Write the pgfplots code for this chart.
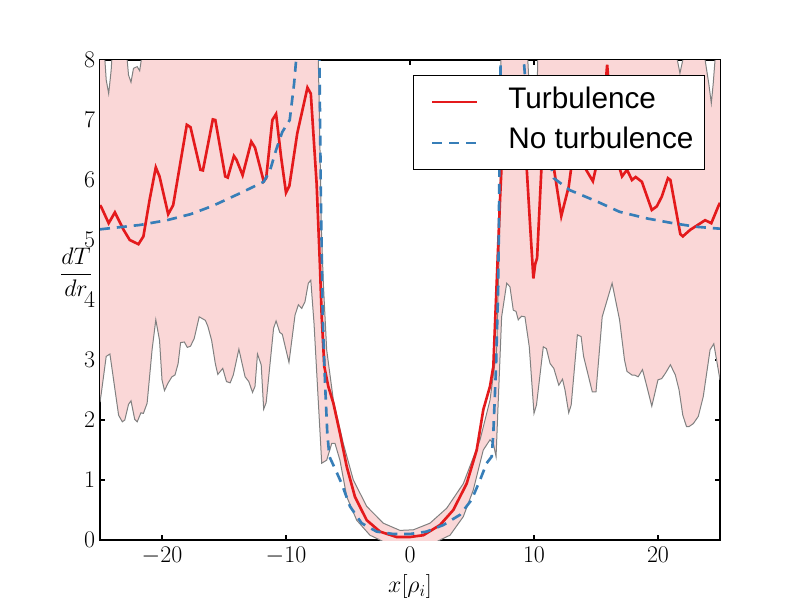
\documentclass[border=0pt]{standalone}
\usepackage{fontspec}
\usepackage{pgfplots}
\pgfplotsset{compat=1.18}
\newfontfamily\legendfont{Liberation Sans}
\definecolor{tred}{RGB}{228,26,28}
\definecolor{tblue}{RGB}{55,126,184}
\definecolor{band}{RGB}{250,215,215}
\definecolor{bandline}{RGB}{128,128,128}

\pgfplotstableread{
x y
-25 8.6
-24.7 8.3
-24.5 7.67
-24.3 7.44
-24.1 7.83
-23.9 8.5
-23.2 9.0
-22.85 8.1
-22.7 7.75
-22.5 7.63
-22.3 7.86
-22.0 7.89
-21.8 7.82
-21.6 8.1
-21.0 9.0
-18 9.5
-14 9.5
-10 9.5
-8 9.5
-7.45 8.6
-7.3 7.0
-7.15 5.2
-6.99 4.28
-6.72 3.17
-6.18 2.33
-5.38 1.61
-4.57 1.0
-3.49 0.56
-2.15 0.28
-0.81 0.16
0.27 0.17
1.61 0.28
2.96 0.53
4.3 0.94
5.65 1.67
6.45 2.33
6.99 3.17
7.15 4.5
7.26 5.39
7.34 8.1
7.6 9.5
9.3 9.5
9.5 8.0
9.8 6.8
10.0 6.6
10.2 6.9
10.3 8.0
10.6 9.5
21.4 9.5
21.56 8.0
21.77 7.78
22.0 8.0
22.2 9.0
23.5 9.0
23.8 8.0
24.1 7.6
24.3 7.28
24.45 7.6
24.6 8.0
24.8 9.0
25 9.0
}\bandup

\pgfplotstableread{
x y
-25 2.3
-24.9 2.44
-24.5 3.06
-24.2 3.1
-23.5 2.08
-23.2 1.97
-23.0 2.0
-22.7 2.26
-22.5 2.32
-22.2 2.01
-22.0 1.97
-21.7 2.12
-21.5 2.11
-21.2 2.28
-20.8 3.17
-20.5 3.67
-20.2 3.33
-20.0 2.67
-19.8 2.49
-19.5 2.62
-19.2 2.72
-18.95 2.75
-18.7 2.94
-18.5 3.29
-18.2 3.3
-17.96 3.21
-17.7 3.23
-17.4 3.36
-17.0 3.72
-16.5 3.66
-16.3 3.56
-16.0 3.33
-15.7 2.94
-15.5 2.76
-15.1 2.86
-14.8 2.64
-14.5 2.62
-14.25 2.75
-13.8 3.18
-13.3 2.72
-13.0 2.64
-12.7 2.46
-12.5 2.56
-12.3 3.1
-12.0 2.92
-11.8 2.18
-11.6 2.29
-11.0 3.53
-10.8 3.65
-10.5 3.46
-10.3 3.43
-9.76 2.96
-9.27 3.75
-9.0 3.92
-8.73 3.86
-8.47 3.97
-8.2 4.28
-8.0 4.33
-7.74 3.61
-7.4 2.33
-7.12 1.28
-6.72 1.33
-6.31 1.61
-6.05 1.61
-5.65 1.33
-5.1 0.72
-4.3 0.33
-3.23 0.08
-2.42 0.0
-1.5 -0.1
0 -0.15
1.5 -0.1
2.42 0.0
3.23 0.08
4.3 0.39
5.1 0.83
5.91 1.5
6.45 1.67
6.72 1.61
6.94 1.39
7.12 2.33
7.39 3.72
7.8 4.28
8.06 4.22
8.33 3.83
8.55 3.81
8.73 3.67
9.0 3.73
9.27 3.72
9.62 3.22
10.0 2.11
10.2 2.25
10.75 3.22
11.0 3.19
11.3 2.94
11.6 2.86
12.0 2.58
12.3 2.68
12.5 2.5
12.8 2.12
13.0 2.25
13.5 3.42
13.8 3.39
14.0 3.06
14.7 2.47
15.0 2.47
15.5 3.72
15.9 4.0
16.3 4.28
16.9 3.67
17.3 3.0
17.5 2.81
17.9 2.75
18.1 2.75
18.4 2.72
18.75 2.84
19.1 2.56
19.5 2.23
20.0 2.67
20.3 2.69
20.6 2.78
21.0 2.92
21.4 2.75
21.7 2.5
22.0 2.08
22.3 1.89
22.5 1.89
22.85 1.94
23.25 2.06
23.65 2.39
24.2 3.17
24.5 3.27
25.0 2.67
}\bandlo

\pgfplotstableread{
x y
-25 8.6
-24.7 8.3
-24.5 7.67
-24.3 7.44
-24.1 7.83
-23.9 8.5
-23.2 9.0
-22.85 8.1
-22.7 7.75
-22.5 7.63
-22.3 7.86
-22.0 7.89
-21.8 7.82
-21.6 8.1
-21.0 9.0
-18 9.5
-14 9.5
-10 9.5
-8 9.5
-7.45 8.6
-7.3 7.0
-7.15 5.2
-6.99 4.28
-6.72 3.17
-6.18 2.33
-5.38 1.61
-4.57 1.0
-3.49 0.56
-2.15 0.28
-0.81 0.16
0.27 0.17
1.61 0.28
2.96 0.53
4.3 0.94
5.65 1.67
6.45 2.33
6.99 3.17
7.15 4.5
7.26 5.39
7.34 8.1
7.6 9.5
9.3 9.5
9.5 8.0
9.8 6.8
10.0 6.6
10.2 6.9
10.3 8.0
10.6 9.5
21.4 9.5
21.56 8.0
21.77 7.78
22.0 8.0
22.2 9.0
23.5 9.0
23.8 8.0
24.1 7.6
24.3 7.28
24.45 7.6
24.6 8.0
24.8 9.0
25 9.0
25.0 2.67
24.5 3.27
24.2 3.17
23.65 2.39
23.25 2.06
22.85 1.94
22.5 1.89
22.3 1.89
22.0 2.08
21.7 2.5
21.4 2.75
21.0 2.92
20.6 2.78
20.3 2.69
20.0 2.67
19.5 2.23
19.1 2.56
18.75 2.84
18.4 2.72
18.1 2.75
17.9 2.75
17.5 2.81
17.3 3.0
16.9 3.67
16.3 4.28
15.9 4.0
15.5 3.72
15.0 2.47
14.7 2.47
14.0 3.06
13.8 3.39
13.5 3.42
13.0 2.25
12.8 2.12
12.5 2.5
12.3 2.68
12.0 2.58
11.6 2.86
11.3 2.94
11.0 3.19
10.75 3.22
10.2 2.25
10.0 2.11
9.62 3.22
9.27 3.72
9.0 3.73
8.73 3.67
8.55 3.81
8.33 3.83
8.06 4.22
7.8 4.28
7.39 3.72
7.12 2.33
6.94 1.39
6.72 1.61
6.45 1.67
5.91 1.5
5.1 0.83
4.3 0.39
3.23 0.08
2.42 0.0
1.5 -0.1
0 -0.15
-1.5 -0.1
-2.42 0.0
-3.23 0.08
-4.3 0.33
-5.1 0.72
-5.65 1.33
-6.05 1.61
-6.31 1.61
-6.72 1.33
-7.12 1.28
-7.4 2.33
-7.74 3.61
-8.0 4.33
-8.2 4.28
-8.47 3.97
-8.73 3.86
-9.0 3.92
-9.27 3.75
-9.76 2.96
-10.3 3.43
-10.5 3.46
-10.8 3.65
-11.0 3.53
-11.6 2.29
-11.8 2.18
-12.0 2.92
-12.3 3.1
-12.5 2.56
-12.7 2.46
-13.0 2.64
-13.3 2.72
-13.8 3.18
-14.25 2.75
-14.5 2.62
-14.8 2.64
-15.1 2.86
-15.5 2.76
-15.7 2.94
-16.0 3.33
-16.3 3.56
-16.5 3.66
-17.0 3.72
-17.4 3.36
-17.7 3.23
-17.96 3.21
-18.2 3.3
-18.5 3.29
-18.7 2.94
-18.95 2.75
-19.2 2.72
-19.5 2.62
-19.8 2.49
-20.0 2.67
-20.2 3.33
-20.5 3.67
-20.8 3.17
-21.2 2.28
-21.5 2.11
-21.7 2.12
-22.0 1.97
-22.2 2.01
-22.5 2.32
-22.7 2.26
-23.0 2.0
-23.2 1.97
-23.5 2.08
-24.2 3.1
-24.5 3.06
-24.9 2.44
-25 2.3
}\bandpoly

\pgfplotstableread{
x y
-25 5.58
-24.9 5.55
-24.3 5.28
-23.8 5.46
-23.1 5.17
-22.6 5.0
-21.9 4.93
-21.5 5.06
-21.0 5.67
-20.5 6.21
-20.2 6.06
-19.5 5.43
-19.1 5.58
-18.0 6.92
-17.7 6.88
-16.9 6.17
-16.7 6.16
-15.9 7.01
-15.7 7.0
-14.9 6.06
-14.7 6.04
-14.2 6.4
-14.0 6.34
-13.5 6.08
-12.8 6.64
-12.5 6.54
-11.8 5.98
-11.6 6.03
-11.1 7.0
-10.8 7.1
-10.4 6.39
-10.0 5.79
-9.73 5.9
-9.09 6.78
-8.27 7.54
-8.0 7.44
-7.53 5.94
-7.26 4.56
-7.12 3.72
-6.91 2.89
-6.59 2.56
-6.18 2.28
-5.65 1.78
-5.1 1.22
-4.44 0.72
-3.49 0.33
-2.42 0.14
-1.08 0.05
0 0.05
1.08 0.08
2.42 0.25
3.49 0.5
4.57 0.94
5.38 1.5
5.91 2.17
6.45 2.56
6.72 2.89
6.99 4.28
7.26 5.67
7.4 6.3
7.8 7.0
8.5 7.3
9.0 7.0
9.41 6.2
9.7 5.2
9.95 4.36
10.1 4.6
10.25 4.7
10.6 6.2
11.1 6.7
11.6 6.2
12.2 5.4
12.8 5.89
13.0 6.2
13.5 6.55
14.0 6.3
14.2 6.17
14.75 5.98
15.1 6.3
15.5 6.9
15.9 7.92
16.3 6.9
16.9 6.2
17.1 6.06
17.5 6.17
17.9 6.0
18.2 6.05
18.7 5.97
19.5 5.5
19.9 5.56
20.3 5.72
20.8 6.03
21.0 6.0
21.8 5.1
22.0 5.06
22.6 5.17
23.2 5.25
23.8 5.33
24.3 5.28
24.9 5.58
25 5.62
}\turbdata

\pgfplotstableread{
x y
-25 5.18
-24.9 5.18
-21.8 5.25
-19.6 5.33
-17.7 5.43
-15.9 5.57
-13.7 5.78
-11.8 5.97
-11.3 6.15
-10.8 6.5
-10.3 6.8
-9.7 7.0
-9.35 7.6
-9.1 8.2
-8.5 10
-7.6 10
-7.32 8.3
-7.2 5.95
-7.04 3.72
-6.85 2.61
-6.67 1.78
-6.5 1.39
-6.05 1.19
-5.51 0.94
-4.84 0.56
-3.9 0.28
-2.69 0.14
-1.34 0.1
0 0.1
1.34 0.14
2.69 0.25
4.03 0.42
4.97 0.67
5.65 1.0
6.18 1.28
6.59 1.39
6.72 1.78
6.94 2.89
7.12 4.28
7.2 5.94
7.31 8.0
7.6 10
8.5 10
9.1 8.2
9.4 7.4
9.7 7.0
10.5 6.6
11.4 6.2
11.6 6.03
12.9 5.83
15.1 5.64
16.9 5.47
19.1 5.36
21.2 5.28
23.1 5.22
24.9 5.19
25 5.19
}\noturbdata

\begin{document}
\begin{tikzpicture}
\path[use as bounding box] (0,0) rectangle (576bp,432bp);
\begin{axis}[
  at={(72bp,43.2bp)}, anchor=south west,
  scale only axis, width=446.4bp, height=345.6bp,
  xmin=-25, xmax=25, ymin=0, ymax=8,
  xtick={-20,-10,0,10,20}, ytick={0,1,2,3,4,5,6,7,8},
  tick align=inside, major tick length=3.6bp,
  axis line style={line width=0.8bp},
  every tick/.style={black, line width=0.8bp},
  tick label style={font=\fontsize{16.5}{20}\selectfont},
  xticklabel style={yshift=-1.5bp},
  xlabel={$x[\rho_i]$},
  xlabel style={at={(axis description cs:0.5,-0.097)}, anchor=center, font=\fontsize{16.5}{20}\selectfont},
  ylabel={$\displaystyle\frac{dT}{dr}$},
  ylabel style={rotate=-90, at={(axis description cs:-0.0387,0.558)}, anchor=center, font=\fontsize{16.5}{20}\selectfont},
  legend style={at={(0.976,0.969)}, anchor=north east, draw=black, line width=0.8bp, fill=white,
    font=\legendfont\fontsize{21.4bp}{25bp}\selectfont, inner xsep=6bp, inner ysep=6bp,
    nodes={text depth=7bp}, row sep=2.9bp, column sep=19.4bp},
  legend cell align=left,
  legend image code/.code={\path (-6.8bp,0bp); \draw[#1] (0bp,0bp) -- (32.4bp,0bp);},
]
\addplot[fill=band, draw=none, forget plot] table {\bandpoly};
\addplot[draw=bandline, line width=0.72bp, forget plot] table {\bandup};
\addplot[draw=bandline, line width=0.72bp, forget plot] table {\bandlo};
\addplot[tred, line width=1.9bp] table {\turbdata};
\addplot[tblue, line width=1.9bp, dash pattern=on 7.2bp off 5bp] table {\noturbdata};
\legend{Turbulence, No turbulence}
\end{axis}
\end{tikzpicture}
\end{document}
